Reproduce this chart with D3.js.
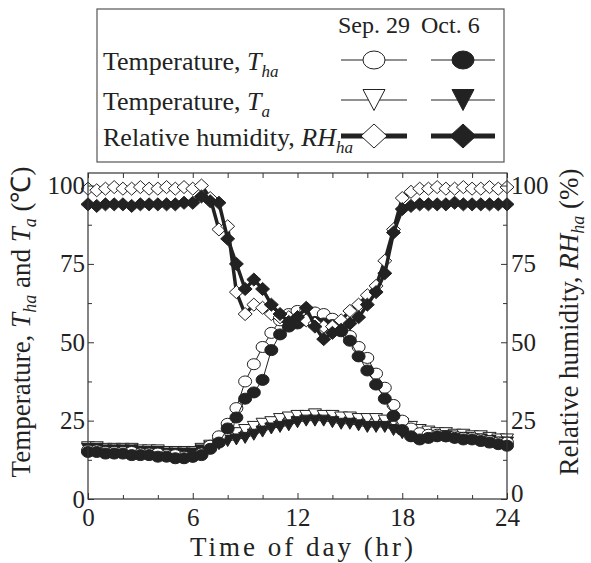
<!DOCTYPE html>
<html>
<head>
<meta charset="utf-8">
<script src="https://cdn.jsdelivr.net/npm/d3@7/dist/d3.min.js"></script>
<style>
  body { margin: 0; background: #fff; }
</style>
</head>
<body>
<script>
//chart data
var hours = [0,0.5,1,1.5,2,2.5,3,3.5,4,4.5,5,5.5,6,6.5,7,7.5,8,8.5,9,9.5,10,10.5,11,11.5,12,
             12.5,13,13.5,14,14.5,15,15.5,16,16.5,17,17.5,18,18.5,19,19.5,20,20.5,21,21.5,22,22.5,23,23.5,24];

//relative humidity RH_ha (%)
var rhSep = [99,98.5,99,99.5,99,99,99.5,99,99,99.5,99,99.5,99,
             100,96,86,87,66,59,62,61,59,58,58,58,57,56,55,55,57,60,62,65,68,76,86,96,98,99,
             99,99.5,99,99,99.5,99,99,99.5,99,99.5];
var rhOct = [94,93.5,94,94,94,93.5,94,94,94,94,94,94.5,94.5,
             96.5,95,94.5,83,75,67,70,67,62,59,56.5,58,61,55,51,53,54,56,58,62,66,72,85,92.5,93.5,94,
             94,94,94,94.5,94,94,94,94,94,94];

//hall air temperature T_ha (C)
var thaSep = [15.5,15.5,15,15,15,15,14.5,14.5,14.5,14,14,13.5,13.5,
              14.5,17,20,24,29,37.5,43,48.5,53,57,59,60,60,59.5,59,57.5,55,52,48.5,45,40,35.5,30,25,22.5,21,
              20.5,20.5,20,20,19.5,19.5,19,18.5,18,18];
var thaOct = [15,15,14.5,14.5,14.5,14,14,14,13.5,13.5,13,13,13.5,
              14,16,18,22.5,26,32,34,38,47.5,52.5,55,56,57,56.5,56,55.5,53.5,50.5,45.5,41,36.5,32,26.5,22,20,19,
              19.5,20,20,19.5,19,19,18.5,18,17.5,17];

//outdoor air temperature T_a (C)
var taSep = [16.5,16.5,16,16,16,16,15.5,15.5,15.5,15,15,15,15,
             16,17,18.5,19.5,21,22,23,24,24.5,25.5,26,26.5,26.5,27,26.5,26.5,26,26,25.5,25.5,25.5,25,24.5,24,23,22,
             21.5,21,21,20.5,20.5,20,20,19.5,19,19];
var taOct = [16,16,15.5,15.5,15.5,15.5,15,15,15,14.5,14.5,14.5,14.5,
             15.5,16.5,17.5,18.5,19,19.5,20.5,21.5,22.5,23,23.5,24.5,25,25,25,24.5,24,24,23.5,23,23,23,22,21,20,19.5,
             19.5,20,20,19.5,19.5,19,19,18.5,18,18];

var xTicks = [0,6,12,18,24];
var xMinor = [2,4,8,10,14,16,20,22];
var yTicks = [0,25,50,75,100];
var yMinor = [12.5,37.5,62.5,87.5];

(function(){

    var width = 591, height = 563;
    var ink = "#222";
    var serif = "'Liberation Serif'";

    var svg = d3.select("body").append("svg")
        .attr("width", width)
        .attr("height", height)
        .style("font-family", serif);

    var x = d3.scaleLinear().domain([0,24]).range([88,507]);
    var y = d3.scaleLinear().domain([0,104]).range([499,173]);

    //marker shapes, a bit wider than tall like the original
    function marker(g, shape, filled, w, h){
        var fill = filled ? ink : "#fff";
        if (shape == "circle"){
            g.append("ellipse").attr("rx", w/2).attr("ry", h/2)
                .attr("fill", fill).attr("stroke", ink).attr("stroke-width", 1);
        } else if (shape == "tri"){
            g.append("path").attr("d", "M" + (-w/2) + "," + (-h/2) + "L" + (w/2) + "," + (-h/2) + "L0," + (h/2) + "Z")
                .attr("fill", fill).attr("stroke", ink).attr("stroke-width", 1);
        } else {
            g.append("path").attr("d", "M0," + (-h/2) + "L" + (w/2) + ",0L0," + (h/2) + "L" + (-w/2) + ",0Z")
                .attr("fill", fill).attr("stroke", ink).attr("stroke-width", 1);
        }
    }

    var series = [
        {vals: taSep,  shape: "tri",    filled: false, lw: 1,   w: 13, h: 11},
        {vals: taOct,  shape: "tri",    filled: true,  lw: 1,   w: 13, h: 11},
        {vals: thaSep, shape: "circle", filled: false, lw: 1,   w: 13, h: 11},
        {vals: thaOct, shape: "circle", filled: true,  lw: 1,   w: 13, h: 11},
        {vals: rhSep,  shape: "diamond",filled: false, lw: 3.5, w: 14, h: 13},
        {vals: rhOct,  shape: "diamond",filled: true,  lw: 3.5, w: 14, h: 13}
    ];

    var line = d3.line()
        .x(function(d){ return x(d[0]); })
        .y(function(d){ return y(d[1]); });

    series.forEach(function(s){
        var pts = hours.map(function(h, i){ return [h, s.vals[i]]; });
        svg.append("path")
            .datum(pts)
            .attr("fill", "none")
            .attr("stroke", ink)
            .attr("stroke-width", s.lw)
            .attr("stroke-linejoin", "round")
            .attr("d", line);
        svg.selectAll(null)
            .data(pts)
            .enter()
            .append("g")
            .attr("transform", function(d){ return "translate(" + x(d[0]) + "," + y(d[1]) + ")"; })
            .each(function(){ marker(d3.select(this), s.shape, s.filled, s.w, s.h); });
    });

    //axes with inward ticks
    function styleAxis(g){
        g.select(".domain").remove();
        g.attr("font-family", null).attr("font-size", null);
        g.selectAll("line").attr("stroke", "#333");
        g.selectAll("text").attr("font-size", 25).attr("fill", ink);
    }

    svg.append("g").attr("transform", "translate(0,499)")
        .call(d3.axisBottom(x).tickValues(xTicks).tickSizeInner(-6).tickSizeOuter(0).tickPadding(9).tickFormat(d3.format("d")))
        .call(styleAxis);
    svg.append("g").attr("transform", "translate(0,499)")
        .call(d3.axisBottom(x).tickValues(xMinor).tickSizeInner(-4).tickSizeOuter(0).tickFormat(""))
        .call(styleAxis);
    svg.append("g").attr("transform", "translate(0,173)")
        .call(d3.axisTop(x).tickValues(xTicks.concat(xMinor)).tickSizeInner(-5).tickSizeOuter(0).tickFormat(""))
        .call(styleAxis);

    svg.append("g").attr("transform", "translate(88,0)")
        .call(d3.axisLeft(y).tickValues(yTicks).tickSizeInner(-6).tickSizeOuter(0).tickPadding(3))
        .call(styleAxis);
    svg.append("g").attr("transform", "translate(88,0)")
        .call(d3.axisLeft(y).tickValues(yMinor).tickSizeInner(-4).tickSizeOuter(0).tickFormat(""))
        .call(styleAxis);
    svg.append("g").attr("transform", "translate(507,0)")
        .call(d3.axisRight(y).tickValues(yTicks).tickSizeInner(-6).tickSizeOuter(0).tickPadding(4))
        .call(styleAxis);
    svg.append("g").attr("transform", "translate(507,0)")
        .call(d3.axisRight(y).tickValues(yMinor).tickSizeInner(-4).tickSizeOuter(0).tickFormat(""))
        .call(styleAxis);

    //keep the right-hand 0 clear of the 24 below it, as in the original
    svg.selectAll("text").filter(function(){
        return this.textContent == "0" && this.parentNode.parentNode.getAttribute("transform") == "translate(507,0)";
    }).attr("dy", "0.1em");

    //plot frame
    svg.append("rect")
        .attr("x", 88).attr("y", 173)
        .attr("width", 507 - 88).attr("height", 499 - 173)
        .attr("fill", "none").attr("stroke", "#333").attr("stroke-width", 1.2);

    //axis titles
    svg.append("text")
        .attr("x", 303).attr("y", 556)
        .attr("text-anchor", "middle")
        .attr("font-size", 27)
        .attr("letter-spacing", 3)
        .attr("fill", ink)
        .text("Time of day (hr)");

    var yl = svg.append("text")
        .attr("transform", "translate(30,322) rotate(-90)")
        .attr("text-anchor", "middle")
        .attr("font-size", 27)
        .attr("fill", ink);
    yl.append("tspan").text("Temperature, ");
    yl.append("tspan").attr("font-style", "italic").text("T");
    yl.append("tspan").attr("font-style", "italic").attr("font-size", 18).attr("dy", 6).text("ha");
    yl.append("tspan").attr("dy", -6).text(" and ");
    yl.append("tspan").attr("font-style", "italic").text("T");
    yl.append("tspan").attr("font-style", "italic").attr("font-size", 18).attr("dy", 6).text("a");
    yl.append("tspan").attr("dy", -6).text(" (\u2103)");

    var yr = svg.append("text")
        .attr("transform", "translate(578,322) rotate(-90)")
        .attr("text-anchor", "middle")
        .attr("font-size", 27)
        .attr("fill", ink);
    yr.append("tspan").text("Relative humidity, ");
    yr.append("tspan").attr("font-style", "italic").text("RH");
    yr.append("tspan").attr("font-style", "italic").attr("font-size", 18).attr("dy", 6).text("ha");
    yr.append("tspan").attr("dy", -6).text(" (%)");

    //legend box
    var leg = svg.append("g");
    leg.append("rect")
        .attr("x", 97).attr("y", 9).attr("width", 407).attr("height", 153)
        .attr("fill", "#fff").attr("stroke", "#555").attr("stroke-width", 1.2);

    leg.append("text").attr("x", 338).attr("y", 33).attr("font-size", 24).attr("fill", ink).text("Sep. 29");
    leg.append("text").attr("x", 421).attr("y", 33).attr("font-size", 24).attr("fill", ink).text("Oct. 6");

    var legRows = [
        {label: "Temperature, ", sym: "T",  sub: "ha", shape: "circle",  y: 60,  w: 22, h: 18, lw: 1},
        {label: "Temperature, ", sym: "T",  sub: "a",  shape: "tri",     y: 100, w: 22, h: 21, lw: 1},
        {label: "Relative humidity, ", sym: "RH", sub: "ha", shape: "diamond", y: 136, w: 26, h: 24, lw: 5}
    ];
    legRows.forEach(function(r){
        var t = leg.append("text").attr("x", 103).attr("y", r.y + 10).attr("font-size", 26).attr("fill", ink);
        t.append("tspan").text(r.label);
        t.append("tspan").attr("font-style", "italic").text(r.sym);
        t.append("tspan").attr("font-style", "italic").attr("font-size", 17).attr("dy", 7).text(r.sub);

        [[341,407,374,false],[431,495,463,true]].forEach(function(c){
            leg.append("line")
                .attr("x1", c[0]).attr("x2", c[1]).attr("y1", r.y).attr("y2", r.y)
                .attr("stroke", ink).attr("stroke-width", r.lw);
            var g = leg.append("g").attr("transform", "translate(" + c[2] + "," + r.y + ")");
            marker(g, r.shape, c[3], r.w, r.h);
        });
    });

    //make sure every label uses the serif face
    svg.selectAll("text").style("font-family", serif);

})();
</script>
</body>
</html>
